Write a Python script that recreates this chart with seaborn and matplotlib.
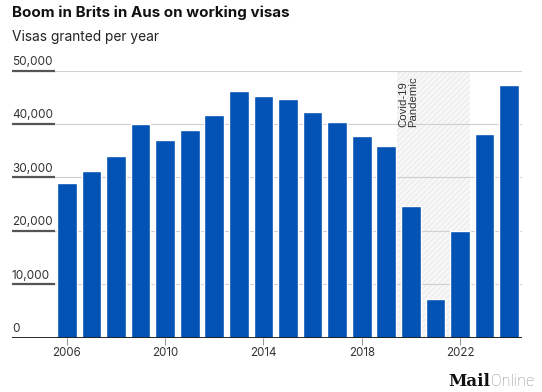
import matplotlib
matplotlib.use("Agg")
import matplotlib.pyplot as plt
import matplotlib.transforms as mtransforms
import seaborn as sns
import pandas as pd

# ---- data ----
years = [2006, 2007, 2008, 2009, 2010, 2011, 2012, 2013, 2014, 2015,
         2016, 2017, 2018, 2019, 2020, 2021, 2022, 2023, 2024]
visas = [28900, 31150, 34050, 40070, 36900, 38900, 41700, 46100, 45250, 44700,
         42150, 40300, 37750, 35900, 24650, 7300, 19950, 38100, 47200]
tick_years = [2006, 2010, 2014, 2018, 2022]
y_ticks = [0, 10000, 20000, 30000, 40000, 50000]
y_labels = ["0", "10,000", "20,000", "30,000", "40,000", "50,000"]
covid_start, covid_end = 2019.45, 2022.4
covid_label = "Covid-19\nPandemic"
title = "Boom in Brits in Aus on working visas"
subtitle = "Visas granted per year"

sns.set_theme(style="white")
plt.rcParams['font.family'] = ['Inter', 'DejaVu Sans']
plt.rcParams['hatch.linewidth'] = 0.5

W, H = 542, 392
fig = plt.figure(figsize=(W / 100, H / 100), dpi=100)
ax = fig.add_axes([12 / W, 1 - 337.5 / H, (522 - 12) / W, (337.5 - 70.5) / H])

df = pd.DataFrame({"year": [str(y) for y in years], "visas": visas})
sns.barplot(data=df, x="year", y="visas", color="#0352b5", saturation=1,
            width=0.8, ax=ax, zorder=3)

first = years[0]
ax.set_xlim(-2.23, len(years) - 1 + 0.52)
ax.set_ylim(0, 50000)

# covid shading
ax.axvspan(covid_start - first, covid_end - first, ymin=0, ymax=1,
           facecolor="#f7f7f7", edgecolor="#e4e4e4", hatch="//////",
           linewidth=0, zorder=0)
ax.text(covid_start - first + 0.02, 49000, covid_label, rotation=90,
        va="top", ha="left", fontsize=8.2, color="#333333",
        family=["Liberation Sans", "DejaVu Sans"], zorder=4,
        linespacing=1.0)

# gridlines and labels
ytr = ax.get_yaxis_transform()
for yv, lab in zip(y_ticks, y_labels):
    if yv > 0:
        ax.axhline(yv, color="#cfcfcf", lw=0.8, zorder=1)
        ax.plot([0, 0.084], [yv, yv], transform=ytr, color="#555555",
                lw=1.6, zorder=2, solid_capstyle="butt", clip_on=False)
    off = mtransforms.offset_copy(ytr, fig=fig, x=0, y=2.5, units="dots")
    ax.text(0.0, yv, lab, transform=off, ha="left", va="bottom",
            fontsize=8.5, color="#333333", clip_on=False)
ax.axhline(0, color="#1a1a1a", lw=1.3, zorder=5)

for s in ax.spines.values():
    s.set_visible(False)
ax.set_yticks([])
ax.set_xticks([y - first for y in tick_years])
ax.set_xticklabels([str(y) for y in tick_years])
ax.tick_params(axis="x", bottom=True, length=5, width=0.8, color="#999999",
               labelsize=8.3, labelcolor="#333333", pad=2)
ax.set_xlabel("")
ax.set_ylabel("")

fig.text(12 / W, 1 - 12.5 / H, title, fontsize=10.9, fontweight="bold",
         va="center", ha="left", color="#111111")
fig.text(12 / W, 1 - 37 / H, subtitle, fontsize=9.9, va="center",
         ha="left", color="#222222")

# logo
fig.text(490 / W, 1 - 382 / H, "Mail", fontsize=12, fontweight="bold",
         family=["DejaVu Serif"], ha="right", va="center", color="#111111")
fig.text(491 / W, 1 - 382 / H, "Online", fontsize=11.5, ha="left",
         va="center", color="#8a8a8a", family=["Roboto", "DejaVu Sans"],
         fontweight="light")

fig.savefig("out.png", dpi=100)
